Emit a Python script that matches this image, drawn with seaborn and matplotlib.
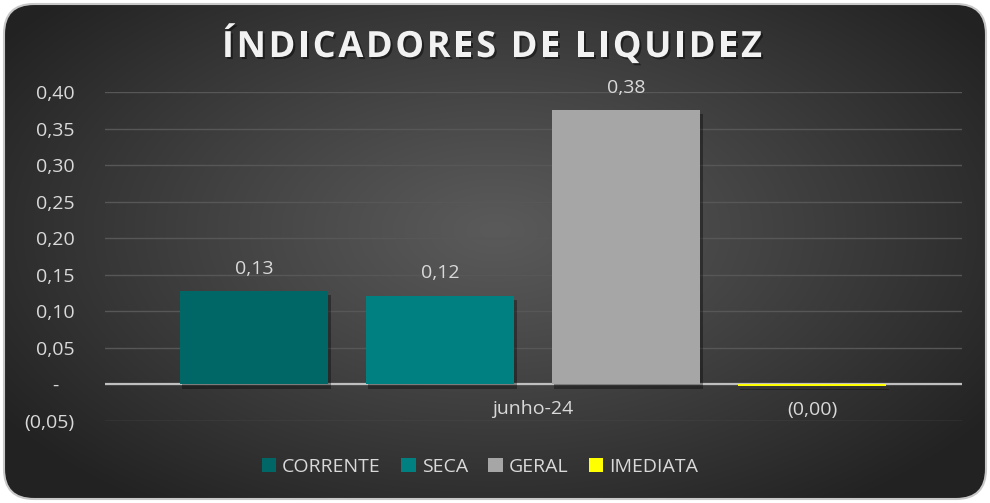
import numpy as np
import pandas as pd
import matplotlib
matplotlib.use("Agg")
import matplotlib.pyplot as plt
import seaborn as sns
from matplotlib.patches import FancyBboxPatch, Patch
import matplotlib.patheffects as pe
from matplotlib import font_manager, ft2font

# ---------------- data ----------------
periodo = ["junho-24"]
indicadores = ["CORRENTE", "SECA", "GERAL", "IMEDIATA"]
valores = [0.128, 0.1215, 0.3755, -0.002]
rotulos = ["0,13", "0,12", "0,38", "(0,00)"]
cores = ["#006666", "#008080", "#A6A6A6", "#FFFF00"]
yticks = [-0.05, 0.0, 0.05, 0.10, 0.15, 0.20, 0.25, 0.30, 0.35, 0.40]
ytick_labels = ["(0,05)", "-   ", "0,05", "0,10", "0,15", "0,20", "0,25", "0,30", "0,35", "0,40"]
titulo = "ÍNDICADORES DE LIQUIDEZ"

plt.rcParams["font.family"] = ["Open Sans", "DejaVu Sans"]
TXT = "#d9d9d9"
FS = 14

W, H = 990, 503
fig = plt.figure(figsize=(W / 100, H / 100), dpi=100, facecolor="white")

# ---------------- background (rounded, radial gradient) ----------------
bg = fig.add_axes([0, 0, 1, 1], zorder=-5)
bg.axis("off")
yy, xx = np.mgrid[0:H, 0:W]
r = np.sqrt(((xx - 495) / 600) ** 2 + ((yy - 230) / 340) ** 2)
t = np.clip(r, 0, 1) ** 1.1
c0 = np.array([0x5a, 0x5a, 0x5a]) / 255
c1 = np.array([0x22, 0x22, 0x22]) / 255
img = c0 + (c1 - c0) * t[..., None]
im = bg.imshow(img, extent=(0, W, H, 0), interpolation="bilinear", aspect="auto")
box = FancyBboxPatch((4, 4), W - 8, H - 8, boxstyle="round,pad=0,rounding_size=30",
                     transform=bg.transData, facecolor="none", edgecolor="#c8c8c8", lw=1.5)
bg.add_patch(box)
im.set_clip_path(box)
bg.set_xlim(0, W)
bg.set_ylim(H, 0)

# ---------------- main axes ----------------
ax = fig.add_axes([105 / W, 82 / H, 857 / W, 329 / H])
ax.set_facecolor("none")
df = pd.DataFrame({"periodo": periodo * len(indicadores),
                   "indicador": indicadores,
                   "valor": valores})
sns.barplot(data=df, x="periodo", y="valor", hue="indicador", hue_order=indicadores,
            palette=cores, saturation=1, width=0.8, gap=0.2, errorbar=None,
            legend=False, linewidth=0, ax=ax, zorder=3)

ax.set_xlim(-(533 - 105) / 930, (962 - 533) / 930)
ax.set_ylim(-0.05, 0.40)
ax.set_yticks(yticks)
ax.set_yticklabels(ytick_labels)
ax.set_xticks([])
ax.set_xlabel("")
ax.set_ylabel("")
for s in ax.spines.values():
    s.set_visible(False)
ax.tick_params(axis="y", length=0, pad=22, labelsize=FS, labelcolor=TXT)
ax.grid(axis="y", color="#575757", lw=1, zorder=0)
ax.grid(axis="x", visible=False)
ax.set_axisbelow(True)
ax.axhline(0, color="#bfbfbf", lw=1.6, zorder=2)

for p in ax.patches:
    p.set_path_effects([pe.withSimplePatchShadow(offset=(2, -3), shadow_rgbFace="black", alpha=0.35)])

for p, v, lab in zip(ax.patches, valores, rotulos):
    xc = p.get_x() + p.get_width() / 2
    off = 16 if v >= 0 else -17
    ax.annotate(lab, (xc, v), xytext=(0, off), textcoords="offset points",
                ha="center", va="center", fontsize=FS, color=TXT)

ax.annotate(periodo[0], (0, 0), xytext=(0, -18), textcoords="offset points",
            ha="center", va="center", fontsize=FS, color=TXT)

# ---------------- title with letter spacing ----------------
tsize = 26
fp = font_manager.FontProperties(family="Open Sans", weight="bold", size=tsize)
font = ft2font.FT2Font(font_manager.findfont(fp))
font.set_size(tsize, 100)
advs = [font.load_char(ord(ch)).linearHoriAdvance / 65536 for ch in titulo]
target_w = 540
spacing = (target_w - sum(advs)) / (len(titulo) - 1)
x = 492 - target_w / 2
for ch, a in zip(titulo, advs):
    if ch != " ":
        bg.text(x + a / 2, 57, ch, fontproperties=fp, color="#f2f2f2", ha="center",
                va="baseline",
                path_effects=[pe.withSimplePatchShadow(offset=(1.5, -1.5),
                                                       shadow_rgbFace="black", alpha=0.45)])
    x += a + spacing

# ---------------- legend ----------------
handles = [Patch(facecolor=c, edgecolor="none", label=l) for c, l in zip(cores, indicadores)]
fig.legend(handles=handles, loc="center", bbox_to_anchor=(480 / W, 1 - 467 / H), ncol=4,
           frameon=False, fontsize=FS, labelcolor=TXT, handlelength=0.75, handleheight=0.75,
           handletextpad=0.3, columnspacing=1.05)

fig.savefig("out.png", dpi=100, facecolor="white")
